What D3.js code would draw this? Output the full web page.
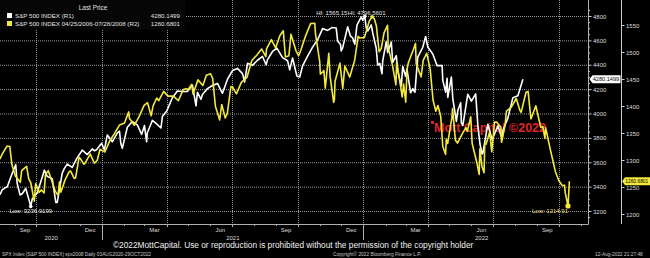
<!DOCTYPE html>
<html lang="en">
<head>
<meta charset="UTF-8">
<title>S&P 500 vs 2006-2008</title>
<script src="https://d3js.org/d3.v7.min.js"></script>
<style>
    body { margin: 0; padding: 0; background: #000; }
    svg { display: block; font-family: "Liberation Sans", Arial, sans-serif; }
</style>
</head>
<body>
<div id="chart"></div>
<script>
// S&P 500 2020-2022 (R1, white)
const spxNow = [
    ["2020-08-11",3333],["2020-08-14",3373],["2020-08-18",3390],["2020-08-21",3397],["2020-08-28",3508],
    ["2020-09-02",3580],["2020-09-04",3427],["2020-09-08",3332],["2020-09-11",3341],["2020-09-16",3385],
    ["2020-09-21",3281],["2020-09-23",3237],["2020-09-25",3298],["2020-10-02",3348],["2020-10-09",3477],
    ["2020-10-12",3535],["2020-10-16",3484],["2020-10-23",3465],["2020-10-28",3271],["2020-10-30",3270],
    ["2020-11-06",3510],["2020-11-09",3550],["2020-11-13",3585],["2020-11-20",3558],["2020-11-27",3638],
    ["2020-12-04",3699],["2020-12-11",3663],["2020-12-18",3709],["2020-12-21",3694],["2020-12-24",3703],
    ["2020-12-31",3756],["2021-01-04",3701],["2021-01-08",3824],["2021-01-15",3768],["2021-01-22",3841],
    ["2021-01-25",3855],["2021-01-27",3751],["2021-01-29",3714],["2021-02-05",3887],["2021-02-12",3934],
    ["2021-02-19",3907],["2021-02-25",3829],["2021-03-01",3901],["2021-03-04",3768],["2021-03-05",3842],
    ["2021-03-12",3943],["2021-03-18",3915],["2021-03-24",3881],["2021-03-26",3975],["2021-04-01",4020],
    ["2021-04-09",4129],["2021-04-16",4185],["2021-04-23",4180],["2021-04-30",4181],["2021-05-07",4233],
    ["2021-05-12",4063],["2021-05-14",4174],["2021-05-19",4116],["2021-05-21",4156],["2021-05-28",4204],
    ["2021-06-04",4230],["2021-06-11",4247],["2021-06-18",4166],["2021-06-25",4281],["2021-07-02",4352],
    ["2021-07-09",4370],["2021-07-16",4327],["2021-07-19",4259],["2021-07-23",4412],["2021-07-30",4395],
    ["2021-08-06",4437],["2021-08-13",4468],["2021-08-18",4400],["2021-08-20",4442],["2021-08-27",4509],
    ["2021-09-02",4537],["2021-09-10",4459],["2021-09-17",4433],["2021-09-20",4358],["2021-09-24",4455],
    ["2021-09-30",4308],["2021-10-04",4300],["2021-10-08",4391],["2021-10-15",4471],["2021-10-22",4545],
    ["2021-10-29",4605],["2021-11-05",4697],["2021-11-12",4682],["2021-11-18",4705],["2021-11-24",4701],
    ["2021-11-26",4595],["2021-11-30",4567],["2021-12-01",4513],["2021-12-03",4538],["2021-12-10",4712],
    ["2021-12-14",4634],["2021-12-17",4620],["2021-12-20",4568],["2021-12-23",4725],["2021-12-29",4793],
    ["2021-12-31",4766],["2022-01-03",4796.56],["2022-01-05",4700],["2022-01-07",4677],["2022-01-12",4726],
    ["2022-01-14",4663],["2022-01-19",4533],["2022-01-21",4398],["2022-01-24",4410],["2022-01-27",4326],
    ["2022-01-28",4432],["2022-02-02",4589],["2022-02-04",4500],["2022-02-09",4587],["2022-02-11",4419],
    ["2022-02-16",4475],["2022-02-18",4349],["2022-02-23",4226],["2022-02-25",4385],["2022-03-01",4306],
    ["2022-03-03",4363],["2022-03-08",4170],["2022-03-11",4204],["2022-03-14",4173],["2022-03-18",4463],
    ["2022-03-25",4543],["2022-03-29",4632],["2022-04-01",4546],["2022-04-08",4488],["2022-04-14",4393],
    ["2022-04-21",4394],["2022-04-22",4272],["2022-04-26",4175],["2022-04-28",4288],["2022-04-29",4132],
    ["2022-05-04",4300],["2022-05-06",4123],["2022-05-11",3935],["2022-05-13",4024],["2022-05-17",4088],
    ["2022-05-18",3923],["2022-05-20",3901],["2022-05-27",4158],["2022-06-01",4101],["2022-06-07",4161],
    ["2022-06-10",3901],["2022-06-13",3750],["2022-06-16",3667],["2022-06-17",3675],["2022-06-24",3912],
    ["2022-06-30",3785],["2022-07-08",3899],["2022-07-14",3790],["2022-07-15",3863],["2022-07-22",3962],
    ["2022-07-29",4130],["2022-08-05",4145],["2022-08-12",4280.15]
];

// S&P 500 04/25/2006 - 07/2008 (R2, yellow), overlaid on the same span
const spx2008 = [
    ["2006-04-25",1301.7],["2006-04-28",1310.6],["2006-05-05",1325.8],["2006-05-09",1325.1],["2006-05-12",1291.2],
    ["2006-05-17",1270.3],["2006-05-19",1267.0],["2006-05-24",1258.6],["2006-05-26",1280.2],["2006-06-02",1288.2],
    ["2006-06-05",1265.3],["2006-06-08",1257.9],["2006-06-13",1223.7],["2006-06-15",1256.2],["2006-06-20",1240.1],
    ["2006-06-23",1244.5],["2006-06-27",1239.2],["2006-06-29",1272.9],["2006-07-03",1280.2],["2006-07-07",1265.5],
    ["2006-07-13",1242.3],["2006-07-17",1234.5],["2006-07-19",1259.8],["2006-07-21",1240.3],["2006-07-27",1263.2],
    ["2006-08-02",1278.6],["2006-08-04",1279.4],["2006-08-09",1265.9],["2006-08-11",1266.7],["2006-08-16",1305.0],
    ["2006-08-18",1302.3],["2006-08-23",1292.0],["2006-08-25",1295.1],["2006-09-01",1311.0],["2006-09-07",1294.0],
    ["2006-09-11",1299.5],["2006-09-15",1319.7],["2006-09-22",1314.8],["2006-09-29",1335.9],["2006-10-06",1349.6],
    ["2006-10-13",1365.0],["2006-10-20",1368.6],["2006-10-26",1389.1],["2006-10-27",1377.3],["2006-11-03",1364.3],
    ["2006-11-10",1380.9],["2006-11-17",1401.2],["2006-11-22",1406.1],["2006-11-27",1381.9],["2006-11-30",1400.6],
    ["2006-12-05",1414.8],["2006-12-08",1409.8],["2006-12-15",1427.1],["2006-12-21",1418.3],["2006-12-29",1418.3],
    ["2007-01-05",1409.7],["2007-01-12",1430.7],["2007-01-16",1431.9],["2007-01-19",1430.5],["2007-01-24",1440.1],
    ["2007-01-26",1422.2],["2007-02-02",1448.4],["2007-02-09",1438.1],["2007-02-14",1456.8],["2007-02-20",1459.7],
    ["2007-02-23",1451.2],["2007-02-27",1399.0],["2007-03-02",1387.2],["2007-03-05",1374.1],["2007-03-08",1402.8],
    ["2007-03-13",1377.9],["2007-03-16",1386.9],["2007-03-21",1435.0],["2007-03-23",1436.1],["2007-03-29",1422.5],
    ["2007-04-05",1443.8],["2007-04-13",1452.9],["2007-04-20",1484.4],["2007-04-27",1494.1],["2007-05-04",1505.6],
    ["2007-05-10",1491.5],["2007-05-11",1505.8],["2007-05-18",1522.8],["2007-05-24",1507.5],["2007-05-30",1530.2],
    ["2007-06-04",1539.2],["2007-06-07",1490.7],["2007-06-12",1493.0],["2007-06-15",1533.0],["2007-06-22",1502.6],
    ["2007-06-26",1492.9],["2007-06-29",1503.4],["2007-07-06",1530.4],["2007-07-13",1552.5],["2007-07-19",1553.1],
    ["2007-07-20",1534.1],["2007-07-26",1482.7],["2007-07-27",1458.9],["2007-08-01",1465.8],["2007-08-03",1433.1],
    ["2007-08-08",1497.5],["2007-08-10",1453.6],["2007-08-15",1406.7],["2007-08-16",1411.3],["2007-08-17",1445.9],
    ["2007-08-24",1479.4],["2007-08-28",1432.4],["2007-08-31",1473.9],["2007-09-07",1453.6],["2007-09-11",1471.5],
    ["2007-09-14",1484.3],["2007-09-19",1529.0],["2007-09-21",1525.8],["2007-09-28",1526.8],["2007-10-05",1557.6],
    ["2007-10-09",1565.15],["2007-10-12",1562.0],["2007-10-15",1548.7],["2007-10-19",1500.6],["2007-10-22",1506.3],
    ["2007-10-26",1535.3],["2007-10-31",1549.4],["2007-11-01",1508.4],["2007-11-07",1475.6],["2007-11-12",1439.2],
    ["2007-11-13",1481.1],["2007-11-16",1458.7],["2007-11-21",1416.8],["2007-11-23",1440.7],["2007-11-26",1407.2],
    ["2007-11-28",1469.0],["2007-11-30",1481.1],["2007-12-07",1504.7],["2007-12-10",1515.9],["2007-12-11",1477.7],
    ["2007-12-14",1467.9],["2007-12-18",1454.0],["2007-12-21",1484.5],["2007-12-26",1497.7],["2007-12-31",1468.4],
    ["2008-01-04",1411.6],["2008-01-08",1390.2],["2008-01-11",1401.0],["2008-01-15",1380.9],["2008-01-18",1325.2],
    ["2008-01-22",1310.5],["2008-01-23",1338.6],["2008-01-25",1330.6],["2008-01-31",1378.6],["2008-02-01",1395.4],
    ["2008-02-05",1336.6],["2008-02-08",1331.3],["2008-02-15",1349.0],["2008-02-20",1360.0],["2008-02-22",1353.1],
    ["2008-02-27",1380.0],["2008-02-29",1330.6],["2008-03-07",1293.4],["2008-03-10",1273.4],["2008-03-11",1320.7],
    ["2008-03-14",1288.1],["2008-03-17",1276.6],["2008-03-18",1330.7],["2008-03-20",1329.5],["2008-03-25",1352.0],
    ["2008-03-28",1315.2],["2008-04-01",1370.2],["2008-04-04",1370.4],["2008-04-10",1360.6],["2008-04-11",1332.8],
    ["2008-04-16",1364.7],["2008-04-18",1390.3],["2008-04-25",1397.8],["2008-05-02",1413.9],["2008-05-07",1392.6],
    ["2008-05-09",1388.3],["2008-05-16",1425.4],["2008-05-19",1426.6],["2008-05-23",1375.9],["2008-05-30",1400.4],
    ["2008-06-06",1360.7],["2008-06-09",1361.8],["2008-06-12",1339.9],["2008-06-13",1360.0],["2008-06-20",1317.9],
    ["2008-06-27",1278.4],["2008-07-02",1261.5],["2008-07-07",1252.3],["2008-07-10",1253.4],["2008-07-11",1239.5],
    ["2008-07-15",1214.91],["2008-07-17",1260.68]
];

const r1Ticks = [3200, 3400, 3600, 3800, 4000, 4200, 4400, 4600, 4800];
const r2Ticks = [1200, 1250, 1300, 1350, 1400, 1450, 1500, 1550];
const legendRows = [
    { name: "S&P 500 INDEX  (R1)", last: "4280.1499", color: "#ffffff" },
    { name: "S&P 500 INDEX 04/25/2006-07/28/2008    (R2)", last: "1260.6801", color: "#f2e93a" }
];
const footerNote = "\u00a92022MottCapital. Use or reproduction is prohibited without the permission of the copyright holder";

const W = 650, H = 258;
const plot = { left: 0, right: 588, top: 0, bottom: 224 };
const parse = d3.timeParse("%Y-%m-%d");
const white = spxNow.map(d => ({ date: parse(d[0]), v: d[1] }));
const yellow = spx2008.map(d => ({ date: parse(d[0]), v: d[1] }));

const x = d3.scaleTime()
    .domain([parse("2020-08-11"), parse("2022-11-11")])
    .range([plot.left, plot.right]);
// 2006-2008 series laid over the same window
const xOld = d3.scaleTime()
    .domain([parse("2006-04-25"), parse("2008-07-17")])
    .range([x(parse("2020-08-11")), x(parse("2022-10-16"))]);
const yR1 = d3.scaleLinear().domain([3200, 4800]).range([211, 16]);
const yR2 = d3.scaleLinear().domain([1200, 1550]).range([214, 25]);

const svg = d3.select("#chart").append("svg")
    .attr("width", W).attr("height", H);
svg.append("rect").attr("width", W).attr("height", H).attr("fill", "#000");

// grid
const months = d3.timeMonths(x.domain()[0], x.domain()[1]);
const quarters = months.filter(m => m.getMonth() % 3 === 0);
svg.append("g").selectAll("line").data(r1Ticks).join("line")
    .attr("x1", plot.left).attr("x2", plot.right)
    .attr("y1", d => yR1(d) + 0.5).attr("y2", d => yR1(d) + 0.5)
    .attr("stroke", "#9a9a9a").attr("stroke-dasharray", "1,1");
svg.append("g").selectAll("line").data(quarters).join("line")
    .attr("x1", d => Math.round(x(d)) + 0.5).attr("x2", d => Math.round(x(d)) + 0.5)
    .attr("y1", plot.top).attr("y2", plot.bottom)
    .attr("stroke", "#9a9a9a").attr("stroke-dasharray", "1,1");

// watermark
const lastW = white[white.length - 1];
svg.append("rect").attr("x", 431).attr("y", 121).attr("width", 3).attr("height", 3).attr("fill", "#e0242b");
svg.append("text").attr("x", 434).attr("y", 132)
    .attr("font-size", 12.5).attr("font-weight", "bold").attr("fill", "#e0242b")
    .text("Mott Capital \u00a92022");

// lines
const lineW = d3.line().x(d => x(d.date)).y(d => yR1(d.v));
const lineY = d3.line().x(d => xOld(d.date)).y(d => yR2(d.v));
svg.append("path").datum(white).attr("d", lineW)
    .attr("fill", "none").attr("stroke", "#ffffff").attr("stroke-width", 1.6).attr("stroke-linejoin", "round");
svg.append("path").datum(yellow).attr("d", lineY)
    .attr("fill", "none").attr("stroke", "#f2e93a").attr("stroke-width", 1.6).attr("stroke-linejoin", "round");

// hi / low markers
const hiW = d3.greatest(white, d => d.v), loW = d3.least(white, d => d.v);
const hiY = d3.greatest(yellow, d => d.v), loY = d3.least(yellow, d => d.v);
svg.append("circle").attr("cx", x(hiW.date)).attr("cy", yR1(hiW.v)).attr("r", 1.8).attr("fill", "#fff");
svg.append("circle").attr("cx", x(loW.date)).attr("cy", yR1(loW.v)).attr("r", 1.8).attr("fill", "#fff");
svg.append("circle").attr("cx", xOld(hiY.date)).attr("cy", yR2(hiY.v)).attr("r", 1.8).attr("fill", "#f2e93a");
svg.append("circle").attr("cx", xOld(loY.date)).attr("cy", yR2(loY.v)).attr("r", 2.6).attr("fill", "#f2e93a");

const small = (t, xx, yy, anchor, fill) => svg.append("text")
    .attr("x", xx).attr("y", yy).attr("text-anchor", anchor)
    .attr("font-size", 6).attr("fill", fill).text(t);
small("HI: 4796.5601", x(hiW.date) - 17, 15, "start", "#e6e6e6");
small("HI: 1565.15", x(hiW.date) - 17.5, 15, "end", "#e6e6e6");
small("Low: 3236.9199", x(loW.date), yR1(loW.v) + 7, "middle", "#e6e6e6");
small("Low: 1214.91", xOld(loY.date), yR2(loY.v) + 7.5, "end", "#e8df7c");

// frame / axes
svg.append("line").attr("x1", plot.left).attr("x2", plot.right + 0.5)
    .attr("y1", plot.bottom + 0.5).attr("y2", plot.bottom + 0.5).attr("stroke", "#b0b0b0");
svg.append("line").attr("x1", plot.right + 0.5).attr("x2", plot.right + 0.5)
    .attr("y1", plot.top).attr("y2", plot.bottom + 0.5).attr("stroke", "#b0b0b0");
const r2x = 621.5;
svg.append("line").attr("x1", r2x).attr("x2", r2x)
    .attr("y1", plot.top).attr("y2", plot.bottom).attr("stroke", "#cfcfcf");

// R1 axis ticks
const r1Minor = d3.range(3150, 4851, 50);
svg.append("g").selectAll("line").data(r1Minor).join("line")
    .attr("x1", plot.right + 0.5).attr("x2", d => plot.right + (d % 200 === 0 ? 3.5 : 2))
    .attr("y1", d => yR1(d) + 0.5).attr("y2", d => yR1(d) + 0.5).attr("stroke", "#cfcfcf");
svg.append("g").selectAll("text").data(r1Ticks).join("text")
    .attr("x", plot.right + 5).attr("y", d => yR1(d) + 2.5)
    .attr("font-size", 6).attr("fill", "#dcdcdc").text(d => d);
// R2 axis ticks
svg.append("g").selectAll("line").data(r2Ticks).join("line")
    .attr("x1", r2x).attr("x2", r2x + 3)
    .attr("y1", d => yR2(d) + 0.5).attr("y2", d => yR2(d) + 0.5).attr("stroke", "#cfcfcf");
svg.append("g").selectAll("text").data(r2Ticks).join("text")
    .attr("x", r2x + 4.5).attr("y", d => yR2(d) + 2.5)
    .attr("font-size", 6).attr("fill", "#dcdcdc").text(d => d);

// last value tags
const tag = (xx, yy, w, fill, t, fs) => {
    svg.append("path")
        .attr("d", `M${xx},${yy} L${xx + 3},${yy - 4} L${xx + w},${yy - 4} L${xx + w},${yy + 4} L${xx + 3},${yy + 4} Z`)
        .attr("fill", fill);
    svg.append("text").attr("x", xx + 3.2).attr("y", yy + 2)
        .attr("font-size", fs).attr("fill", "#000").text(t);
};
tag(plot.right + 1.5, yR1(lastW.v), 31, "#ffffff", legendRows[0].last, 5.6);
const lastY = yellow[yellow.length - 1];
tag(r2x + 0.5, yR2(lastY.v), 30, "#f2e93a", legendRows[1].last, 4.9);

// x axis
svg.append("g").selectAll("line").data(months).join("line")
    .attr("x1", d => Math.round(x(d)) + 0.5).attr("x2", d => Math.round(x(d)) + 0.5)
    .attr("y1", plot.bottom).attr("y2", d => plot.bottom + (d.getMonth() === 0 ? 16 : d.getMonth() % 3 === 0 ? 3 : 2))
    .attr("stroke", "#b0b0b0");
const labelMonths = months.filter(m => m.getMonth() % 3 === 2)
    .map(m => d3.timeDay.offset(m, 14));
svg.append("g").selectAll("text").data(labelMonths).join("text")
    .attr("x", d => x(d)).attr("y", 232).attr("text-anchor", "middle")
    .attr("font-size", 6).attr("fill", "#dcdcdc").text(d3.timeFormat("%b"));
const years = [2020, 2021, 2022];
svg.append("g").selectAll("text").data(years).join("text")
    .attr("x", d => {
        const a = Math.max(x(new Date(d, 0, 1)), plot.left);
        const b = Math.min(x(new Date(d + 1, 0, 1)), plot.right);
        return (a + b) / 2 + (d === 2022 ? 6 : 0);
    })
    .attr("y", 240).attr("text-anchor", "middle")
    .attr("font-size", 6).attr("fill", "#dcdcdc").text(d => d);

// legend box
const lg = svg.append("g");
lg.append("rect").attr("x", 0).attr("y", 0).attr("width", 185).attr("height", 29).attr("fill", "#060606");
lg.append("text").attr("x", 93).attr("y", 10).attr("text-anchor", "middle")
    .attr("font-size", 6.4).attr("fill", "#e0e0e0").text("Last Price");
legendRows.forEach((r, i) => {
    const yy = 18 + i * 8;
    lg.append("rect").attr("x", 7).attr("y", yy - 5).attr("width", 5).attr("height", 5).attr("fill", r.color);
    lg.append("text").attr("x", 15).attr("y", yy).attr("font-size", 6.2)
        .attr("fill", "#e0e0e0").text(r.name);
    lg.append("text").attr("x", 180).attr("y", yy).attr("text-anchor", "end").attr("font-size", 6.2)
        .attr("fill", "#e0e0e0").text(r.last);
});

// footer
svg.append("text").attr("x", 113).attr("y", 247.5).attr("font-size", 8.3)
    .attr("fill", "#f0f0f0").text(footerNote);
svg.append("text").attr("x", 2).attr("y", 256).attr("font-size", 4.8).attr("fill", "#c8c8c8")
    .text("SPX Index (S&P 500 INDEX) spx2008   Daily 03AUG2020-29OCT2022");
svg.append("text").attr("x", 333).attr("y", 256).attr("font-size", 4.8).attr("fill", "#c8c8c8")
    .text("Copyright\u00a9 2022 Bloomberg Finance L.P.");
svg.append("text").attr("x", 595).attr("y", 256).attr("font-size", 4.8).attr("fill", "#c8c8c8")
    .text("12-Aug-2022 21:27:48");
</script>
</body>
</html>
